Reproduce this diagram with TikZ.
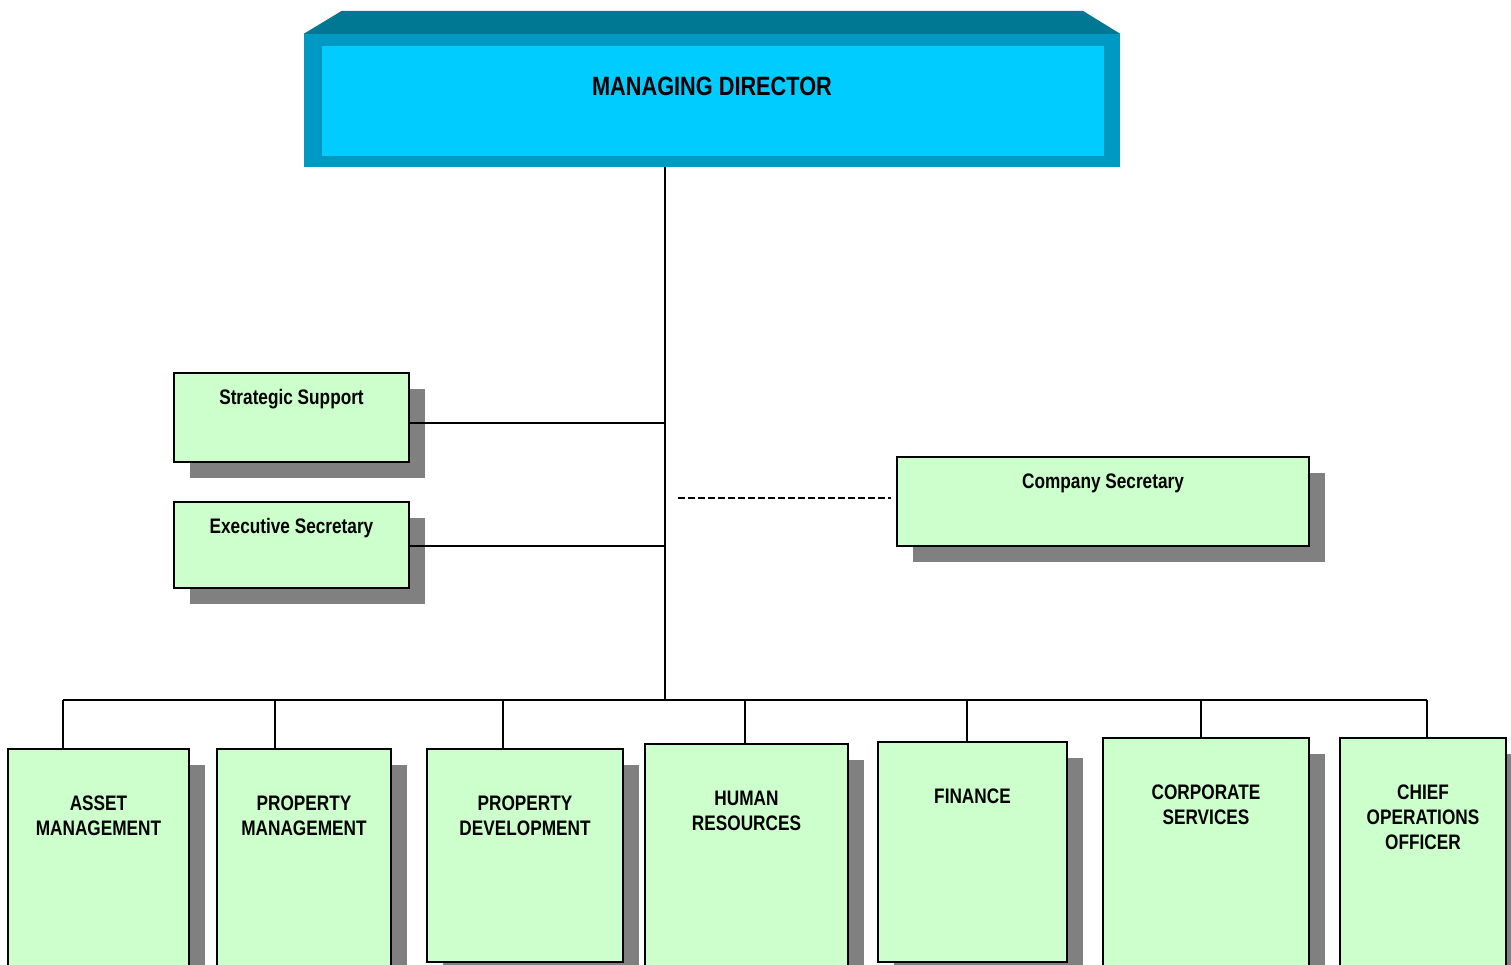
\documentclass[tikz,border=0pt]{standalone}
\usepackage{fontspec}
\setmainfont{Liberation Sans}[FakeStretch=0.82]
\usetikzlibrary{shadows}
\definecolor{mdtop}{HTML}{007893}
\definecolor{mdframe}{HTML}{0099C4}
\definecolor{mdin}{HTML}{00CCFF}
\definecolor{boxgreen}{HTML}{CCFFCC}
\definecolor{shadowgray}{HTML}{808080}
\begin{document}
\begin{tikzpicture}[x=1pt,y=-1pt,
  orgbox/.style={draw=black, line width=1.6pt, fill=boxgreen, inner sep=0pt,
    drop shadow={shadow xshift=16pt, shadow yshift=-16pt, fill=shadowgray, opacity=1}},
  lbl/.style={anchor=north, inner sep=0pt, align=center, font=\bfseries\fontsize{21}{25}\selectfont},
  conn/.style={line width=1.6pt, draw=black},
  dashconn/.style={line width=1.6pt, draw=black, dash pattern=on 6.5pt off 3.5pt}]
\useasboundingbox (0,0) rectangle (1511,964);
\clip (0,0) rectangle (1511,964);
\fill[white] (0,0) rectangle (1511,964);

% Managing director
\node[fill=mdframe, minimum width=816pt, minimum height=133pt, inner sep=0pt] (md) at (712,100.5) {};
\fill[mdtop] (md.north west) -- ++(38,-23) -- ++(741,0) -- (md.north east) -- cycle;
\node[fill=mdin, minimum width=782pt, minimum height=110pt, inner sep=0pt] (mdi) at (713,101) {};
\node[anchor=north, inner sep=0pt, font=\bfseries\fontsize{26.5}{30}\selectfont] (mdt) at (712,77) {MANAGING DIRECTOR};

% Staff boxes
\node[orgbox, minimum width=235pt, minimum height=89pt] (ss) at (291.5,417.5) {};
\node[lbl] (sst) at (291.5,389) {Strategic Support};
\node[orgbox, minimum width=235pt, minimum height=86pt] (es) at (291.5,545) {};
\node[lbl] (est) at (291.5,518.5) {Executive Secretary};
\node[orgbox, minimum width=412pt, minimum height=89pt] (cs) at (1103,501.5) {};
\node[lbl] (cst) at (1103,473.5) {Company Secretary};

% Department boxes
\node[orgbox, minimum width=181pt, minimum height=241pt] (am) at (98.5,869.5) {};
\node[lbl] (amt) at (98.5,796) {ASSET\\MANAGEMENT};
\node[orgbox, minimum width=174pt, minimum height=241pt] (pm) at (304,869.5) {};
\node[lbl] (pmt) at (304,796) {PROPERTY\\MANAGEMENT};
\node[orgbox, minimum width=196pt, minimum height=213pt] (pd) at (525,855.5) {};
\node[lbl] (pdt) at (525,796) {PROPERTY\\DEVELOPMENT};
\node[orgbox, minimum width=203pt, minimum height=246pt] (hr) at (746.5,867) {};
\node[lbl] (hrt) at (746.5,791) {HUMAN\\RESOURCES};
\node[orgbox, minimum width=189pt, minimum height=220pt] (fi) at (972.5,852) {};
\node[lbl] (fit) at (972.5,789) {FINANCE};
\node[orgbox, minimum width=206pt, minimum height=252pt] (co) at (1206,864) {};
\node[lbl] (cot) at (1206,785) {CORPORATE\\SERVICES};
\node[orgbox, minimum width=166pt, minimum height=252pt] (coo) at (1423,864) {};
\node[lbl] (coot) at (1423,785) {CHIEF\\OPERATIONS\\OFFICER};

% Connectors
\coordinate (bus) at (665,700);
\coordinate (j1) at (665,423);
\coordinate (j2) at (665,546);
\coordinate (dsh) at (678,498);
\coordinate (d1) at (63,700);
\coordinate (d2) at (275,700);
\coordinate (d3) at (503,700);
\coordinate (d4) at (745,700);
\coordinate (d5) at (967,700);
\coordinate (d6) at (1201,700);
\coordinate (d7) at (1427,700);
\draw[conn] (bus |- md.south) -- (bus);
\draw[conn] (j1 -| ss.east) -- (j1);
\draw[conn] (j2 -| es.east) -- (j2);
\draw[dashconn] (dsh) -- ([xshift=-5pt]dsh -| cs.west);
\draw[conn] (d1) -- (d7);
\draw[conn] (d1) -- (d1 |- am.north);
\draw[conn] (d2) -- (d2 |- pm.north);
\draw[conn] (d3) -- (d3 |- pd.north);
\draw[conn] (d4) -- (d4 |- hr.north);
\draw[conn] (d5) -- (d5 |- fi.north);
\draw[conn] (d6) -- (d6 |- co.north);
\draw[conn] (d7) -- (d7 |- coo.north);
\end{tikzpicture}
\end{document}
